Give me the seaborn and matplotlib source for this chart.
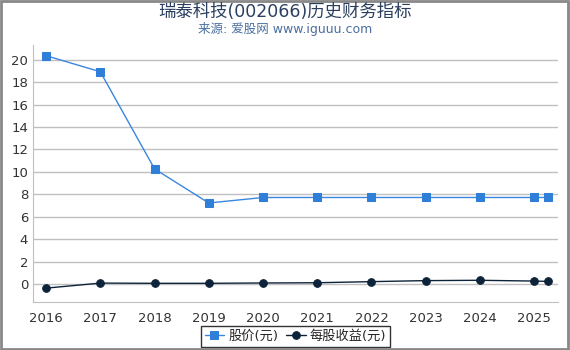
import pandas as pd
import seaborn as sns
from matplotlib import pyplot as plt

years = [2016, 2017, 2018, 2019, 2020, 2021, 2022, 2023, 2024, 2025, 2025.25]
price = [20.36, 18.93, 10.27, 7.23, 7.72, 7.72, 7.72, 7.72, 7.72, 7.72, 7.72]
eps = [-0.36, 0.09, 0.07, 0.07, 0.10, 0.12, 0.22, 0.31, 0.34, 0.27, 0.24]
tick_years = [2016, 2017, 2018, 2019, 2020, 2021, 2022, 2023, 2024, 2025]

df = pd.DataFrame({"year": years, "股价(元)": price, "每股收益(元)": eps})

sns.set_style("white")
plt.rcParams['font.family'] = ['DejaVu Sans', 'Noto Sans CJK SC']

fig = plt.figure(figsize=(5.7, 3.5), dpi=100)
ax = fig.add_axes([0.058, 0.137, 0.921, 0.734])

sns.lineplot(data=df, x="year", y="股价(元)", ax=ax, color="#3a86e0", lw=1,
             marker="s", markersize=5.5, markerfacecolor="#2f7ed8",
             markeredgecolor="#2f7ed8", label="股价(元)")
sns.lineplot(data=df, x="year", y="每股收益(元)", ax=ax, color="#0d233a", lw=1,
             marker="o", markersize=5.5, markerfacecolor="#0d233a",
             markeredgecolor="#0d233a", label="每股收益(元)")

ax.set_xlim(2015.76, 2025.44)
ax.set_ylim(-1.6, 21.3)
ax.set_xticks(tick_years)
ax.set_xticklabels([str(y) for y in tick_years])
ax.set_yticks(range(0, 21, 2))
ax.set_xlabel("")
ax.set_ylabel("")
ax.grid(axis="y", color="#c0c0c0", lw=1)
ax.tick_params(axis="both", labelsize=9.5, colors="#333333", length=4, color="#c0c0c0")
ax.tick_params(axis="y", length=0)
for s in ["top", "right"]:
    ax.spines[s].set_visible(False)
for s in ["left", "bottom"]:
    ax.spines[s].set_color("#c0c0c0")

leg = ax.legend(loc="upper center", bbox_to_anchor=(0.5, -0.068), ncol=2, frameon=True,
                fancybox=False, fontsize=9.5, handlelength=1.5, handletextpad=0.3,
                columnspacing=0.6, borderpad=0.3)
leg.get_frame().set_edgecolor("black")
leg.get_frame().set_linewidth(1)

fig.text(0.5, 0.965, "瑞泰科技(002066)历史财务指标", ha="center", va="center",
         fontsize=12.5, color="#2a3f5f")
fig.text(0.5, 0.918, "来源: 爱股网 www.iguuu.com", ha="center", va="center",
         fontsize=9, color="#4a6f9f")

fig.patches.append(plt.Rectangle((0.002, 0.003), 0.995, 0.994, transform=fig.transFigure,
                                 fill=False, edgecolor="#888888", lw=2))

fig.savefig("out.png", dpi=100)
